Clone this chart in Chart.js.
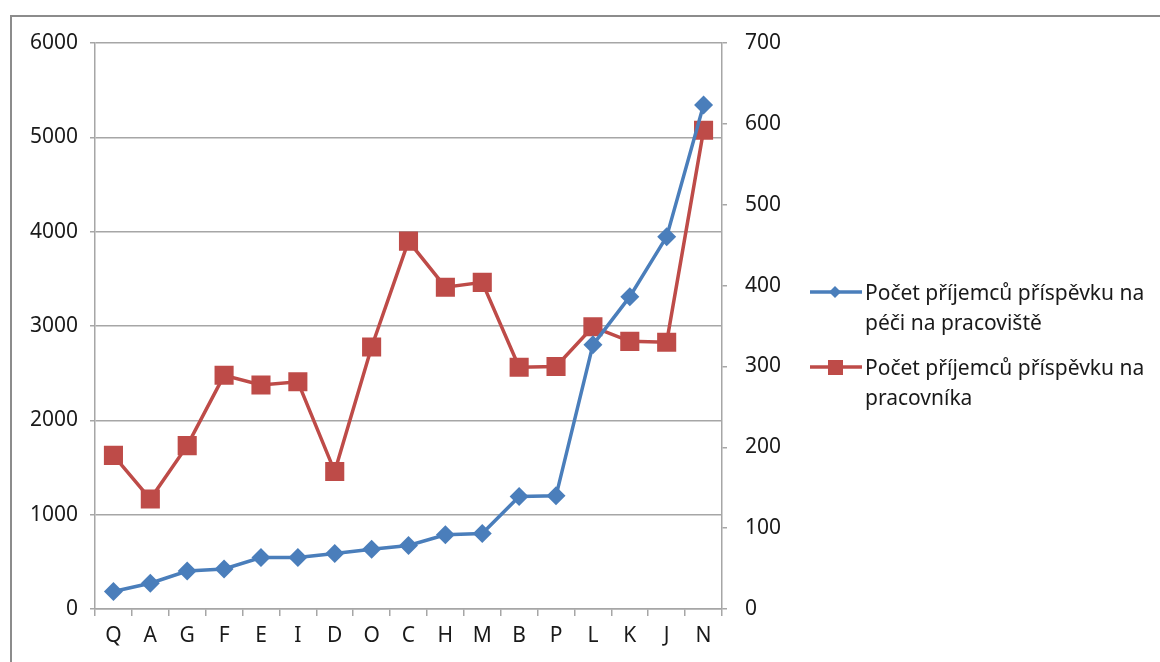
<!DOCTYPE html>
<html>
<head>
<meta charset="utf-8">
<script src="https://cdn.jsdelivr.net/npm/chart.js@4"></script>
<style>
  html, body { margin: 0; padding: 0; background: #fff; overflow: hidden; }
  #wrap { position: relative; width: 1160px; height: 662px; }
  #frame { position: absolute; left: 10px; top: 15px; width: 1200px; height: 700px;
           border-left: 2px solid #8c8c8c; border-top: 2px solid #8c8c8c; }
  #chart { position: absolute; left: 0; top: 0; }
  .leg { position: absolute; left: 808px; font-family: "Noto Sans", sans-serif; font-size: 21px;
         color: #1a1a1a; line-height: 30px; white-space: nowrap; }
  .leg svg { position: absolute; left: 0; top: 5px; }
  .leg div { margin-left: 57px; }
</style>
</head>
<body>
<div id="wrap">
  <div id="frame"></div>
  <canvas id="chart" width="1160" height="662"></canvas>
  <div class="leg" style="top:277px">
    <svg width="56" height="20"><line x1="2" y1="10" x2="54" y2="10" stroke="#4a7ebb" stroke-width="3.5"/>
      <polygon points="27,4 33,10 27,16 21,10" fill="#4a7ebb"/></svg>
    <div>Počet příjemců příspěvku na<br>péči na pracoviště</div>
  </div>
  <div class="leg" style="top:352px">
    <svg width="56" height="20"><line x1="2" y1="10" x2="54" y2="10" stroke="#be4b48" stroke-width="3.5"/>
      <rect x="20" y="3" width="15" height="15" fill="#be4b48"/></svg>
    <div>Počet příjemců příspěvku na<br>pracovníka</div>
  </div>
</div>
<script>
const categories = ['Q','A','G','F','E','I','D','O','C','H','M','B','P','L','K','J','N'];
const seriesNames = ['Počet příjemců příspěvku na péči na pracovišti', 'Počet příjemců příspěvku na pracovníka'];
// left axis
const pecePracoviste = [185, 273, 403, 424, 545, 545, 589, 634, 673, 787, 800, 1193, 1200, 2800, 3311, 3947, 5342];
// right axis
const pracovnik = [190, 136, 202, 289, 277, 281, 170, 324, 455, 398, 404, 299, 300, 349, 331, 330, 592];

const gridGray = '#a6a6a6';
const tickFont = { family: 'Noto Sans', size: 21 };
const plain = (v) => String(v);   // no thousands separator

const ctx = document.getElementById('chart').getContext('2d');
new Chart(ctx, {
    type: 'line',
    data: {
        labels: categories,
        datasets: [{
            label: seriesNames[0],
            data: pecePracoviste,
            yAxisID: 'yLeft',
            borderColor: '#4a7ebb',
            backgroundColor: '#4a7ebb',
            borderWidth: 3.5,
            pointStyle: 'rectRot',
            pointRadius: 9.5,
            pointBorderWidth: 0,
            tension: 0,
            fill: false
        }, {
            label: seriesNames[1],
            data: pracovnik,
            yAxisID: 'yRight',
            borderColor: '#be4b48',
            backgroundColor: '#be4b48',
            borderWidth: 3.5,
            pointStyle: 'rect',
            pointRadius: 13.5,
            pointBorderWidth: 0,
            tension: 0,
            fill: false
        }]
    },
    options: {
        responsive: false,
        animation: false,
        layout: { padding: { left: 20, top: 43, right: 358, bottom: 10 } },
        plugins: { legend: { display: false }, tooltip: { enabled: false } },
        scales: {
            x: {
                offset: true,
                grid: { offset: true, drawOnChartArea: false, color: gridGray, lineWidth: 1.5, tickLength: 7 },
                border: { color: gridGray, width: 1.5 },
                ticks: { color: '#1a1a1a', font: tickFont, padding: 7, maxRotation: 0, autoSkip: false },
                afterFit: (s) => { s.height = 43; }
            },
            yLeft: {
                position: 'left',
                min: 0, max: 6000,
                ticks: { stepSize: 1000, color: '#1a1a1a', font: tickFont, padding: 12, callback: plain },
                grid: { color: gridGray, lineWidth: 1.5, tickLength: 5 },
                border: { color: gridGray, width: 1.5 },
                afterFit: (s) => { s.width = 75; }
            },
            yRight: {
                position: 'right',
                min: 0, max: 700,
                ticks: { stepSize: 100, color: '#1a1a1a', font: tickFont, padding: 18, callback: plain },
                grid: { drawOnChartArea: false, color: gridGray, lineWidth: 1.5, tickLength: 5 },
                border: { color: gridGray, width: 1.5 },
                afterFit: (s) => { s.width = 80; }
            }
        }
    }
});
</script>
</body>
</html>
